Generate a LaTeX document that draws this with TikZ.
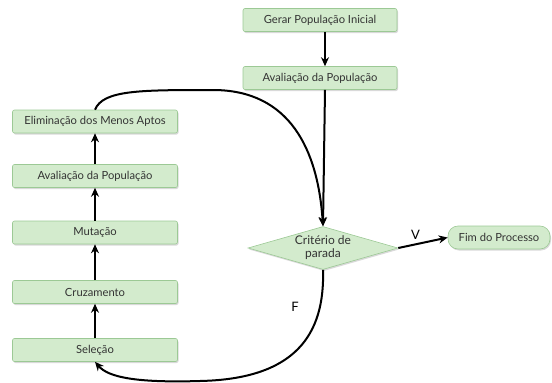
\documentclass[tikz,border=0pt]{standalone}
\usepackage{fontspec}
\setmainfont{Lato}
\usetikzlibrary{shapes.geometric, shadows, arrows.meta}
\definecolor{boxfill}{HTML}{D3EBCD}
\definecolor{boxline}{HTML}{9CC995}
\definecolor{boxtext}{HTML}{333333}
\tikzset{
  stepbox/.style={
    draw=boxline, fill=boxfill, rounded corners=2pt, line width=0.6pt,
    drop shadow={shadow xshift=1pt, shadow yshift=-1.5pt, opacity=0.3},
    text=boxtext, font=\fontsize{11.2}{12.5}\selectfont,
    minimum height=23pt, inner sep=2pt
  },
  flow/.style={-{Stealth[length=9pt, width=8pt]}, line width=2pt, black}
}
\begin{document}
\begin{tikzpicture}[x=1pt, y=-1pt]
  \useasboundingbox (0,0) rectangle (552,383);

  % right column
  \node[stepbox, minimum width=154pt] (gerar) at (320,20) {Gerar População Inicial};
  \node[stepbox, minimum width=154pt] (avaliaTop) at (320,78) {Avaliação da População};
  \node[stepbox, diamond, aspect=3.5, rounded corners=0pt, minimum width=150pt,
        minimum height=43pt, inner sep=0pt, align=center,
        font=\fontsize{12}{13}\selectfont] (criterio) at (323,248)
        {Critério de\\parada};
  \node[stepbox, rounded corners=10pt, minimum width=102pt] (fim) at (499,237.5) {Fim do Processo};

  % left column
  \node[stepbox, minimum width=165pt] (elimina) at (95,121.5) {Eliminação dos Menos Aptos};
  \node[stepbox, minimum width=165pt] (avaliaLeft) at (95,176) {Avaliação da População};
  \node[stepbox, minimum width=165pt] (mutacao) at (95,232.5) {Mutação};
  \node[stepbox, minimum width=165pt] (cruza) at (95,292) {Cruzamento};
  \node[stepbox, minimum width=165pt] (selecao) at (95,350) {Seleção};

  % connectors
  \draw[flow] (gerar.south -| 325,0) -- (avaliaTop.north -| 325,0);
  \draw[flow] (avaliaTop.south -| 325,0) -- (criterio.north);
  \draw[flow] (criterio.east) -- node[above, pos=0.35, font=\fontsize{13}{13}\selectfont] {V} (fim.west);
  \draw[flow] (selecao) -- (cruza);
  \draw[flow] (cruza) -- (mutacao);
  \draw[flow] (mutacao) -- (avaliaLeft);
  \draw[flow] (avaliaLeft) -- (elimina);
  \draw[flow] (elimina.north) .. controls (103,90) and (140,90) .. (213,90)
    .. controls (290,90) and (318,150) .. (criterio.north);
  \draw[flow] (criterio.south) .. controls (325,335) and (295,379) .. (200,381)
    .. controls (135,383) and (108,377) .. (selecao.south);
  \node[font=\fontsize{13}{13}\selectfont] (falso) at (295,307) {F};
\end{tikzpicture}
\end{document}
